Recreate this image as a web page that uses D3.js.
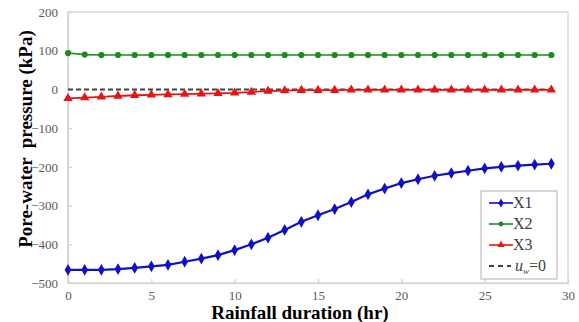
<!DOCTYPE html>
<html>
<head>
<meta charset="utf-8">
<script src="https://cdn.jsdelivr.net/npm/d3@7"></script>
<style>
  html, body { margin: 0; padding: 0; background: #fff; }
  svg { display: block; }
</style>
</head>
<body>
<svg id="chart" width="579" height="322"></svg>
<script>
// Rainfall duration (hr)
const hours = d3.range(0, 30);

// Pore-water pressure (kPa) at three monitoring points
const x1 = [-466, -466, -466, -464, -461, -457, -453, -445, -437, -428,
            -415, -400, -383, -363, -342, -325, -309, -291, -271, -256,
            -242, -232, -223, -216, -210, -204, -200, -197, -194, -192];
const x2 = [94, 90, 89, 89, 89, 89, 89, 89, 89, 89,
            89, 89, 89, 89, 89, 89, 89, 89, 89, 89,
            89, 89, 89, 89, 89, 89, 89, 89, 89, 89];
const x3 = [-23, -21, -19, -17, -15, -14, -13, -12, -11, -10,
            -9, -7, -4, -3, -2, -2, -2, -1, -1, -1,
            -1, -1, -1, -1, -1, -1, -1, -1, -1, -1];
const uw0 = hours.map(() => 0);

const xTicks = [0, 5, 10, 15, 20, 25, 30];
const yTicks = [200, 100, 0, -100, -200, -300, -400, -500];

const seriesNames = ["X1", "X2", "X3"];

const svg = d3.select("#chart");
const W = 579, H = 322;
const m = { left: 68, right: 11, top: 12, bottom: 39 };

const x = d3.scaleLinear().domain([0, 30]).range([m.left, W - m.right]);
const y = d3.scaleLinear().domain([-500, 200]).range([H - m.bottom, m.top]);

const serif = "'Liberation Serif', 'Times New Roman', serif";
const axisGray = "#cfcfcf";
const labelGray = "#595959";

// plot frame
svg.append("rect")
  .attr("x", x(0)).attr("y", y(200))
  .attr("width", x(30) - x(0)).attr("height", y(-500) - y(200))
  .attr("fill", "none").attr("stroke", axisGray).attr("stroke-width", 1.2);

// axes with inward ticks
const gx = svg.append("g")
  .attr("transform", `translate(0,${y(-500)})`)
  .call(d3.axisBottom(x).tickValues(xTicks).tickSizeInner(-4).tickSizeOuter(0).tickPadding(8));
const gy = svg.append("g")
  .attr("transform", `translate(${x(0)},0)`)
  .call(d3.axisLeft(y).tickValues(yTicks).tickSizeInner(-4).tickSizeOuter(0).tickPadding(10));

[gx, gy].forEach(g => {
  g.attr("font-family", serif).attr("font-size", 13);
  g.select(".domain").attr("stroke", axisGray).attr("stroke-width", 1.2);
  g.selectAll(".tick line").attr("stroke", axisGray).attr("stroke-width", 1.2);
  g.selectAll(".tick text")
    .attr("fill", labelGray)
    .attr("font-family", serif)
    .style("font-family", serif)
    .style("font-size", "13px");
});

// axis titles
svg.append("text")
  .attr("x", 300).attr("y", 319)
  .attr("text-anchor", "middle")
  .attr("font-family", serif).attr("font-weight", "bold").attr("font-size", 19)
  .attr("fill", "#000")
  .text("Rainfall duration (hr)");

svg.append("text")
  .attr("transform", "translate(32,139) rotate(-90)")
  .attr("text-anchor", "middle")
  .attr("font-family", serif).attr("font-weight", "bold").attr("font-size", 19)
  .attr("fill", "#000")
  .attr("xml:space", "preserve")
  .style("white-space", "pre")
  .text("Pore-water  pressure (kPa)");

const lineGen = d3.line().x((d, i) => x(hours[i])).y(d => y(d));

// reference line u_w = 0
svg.append("path")
  .datum(uw0)
  .attr("d", lineGen)
  .attr("fill", "none").attr("stroke", "#404040")
  .attr("stroke-width", 2).attr("stroke-dasharray", "5,3");

const styles = [
  { data: x1, color: "#1010c8", width: 2.2, symbol: d3.symbolDiamond, size: 40 },
  { data: x2, color: "#1e8a1e", width: 1.6, symbol: d3.symbolCircle, size: 30 },
  { data: x3, color: "#e81414", width: 1.8, symbol: d3.symbolTriangle, size: 38 }
];

styles.forEach(s => {
  svg.append("path")
    .datum(s.data)
    .attr("d", lineGen)
    .attr("fill", "none").attr("stroke", s.color).attr("stroke-width", s.width);
  svg.append("g").selectAll("path")
    .data(s.data)
    .join("path")
    .attr("transform", (d, i) => `translate(${x(hours[i])},${y(d)})`)
    .attr("d", d3.symbol(s.symbol, s.size))
    .attr("fill", s.color);
});

// legend
const lg = svg.append("g").attr("transform", "translate(481,191)");
lg.append("rect")
  .attr("width", 76).attr("height", 88)
  .attr("fill", "#fff").attr("stroke", "#bfbfbf").attr("stroke-width", 1.2);

const legendRows = [
  ...styles.map((s, i) => ({ label: seriesNames[i], style: s })),
  { label: null, style: null }
];
legendRows.forEach((r, i) => {
  const cy = 12 + i * 21;
  const row = lg.append("g").attr("transform", `translate(0,${cy})`);
  if (r.style) {
    row.append("line").attr("x1", 8).attr("x2", 32).attr("y1", 0).attr("y2", 0)
      .attr("stroke", r.style.color).attr("stroke-width", 1.6);
    row.append("path").attr("transform", "translate(20,0)")
      .attr("d", d3.symbol(r.style.symbol, r.style.size * 0.6))
      .attr("fill", r.style.color);
    row.append("text").attr("x", 32).attr("y", 5)
      .attr("font-family", serif).attr("font-size", 16).attr("fill", "#404040")
      .text(r.label);
  } else {
    row.append("line").attr("x1", 8).attr("x2", 30).attr("y1", 0).attr("y2", 0)
      .attr("stroke", "#404040").attr("stroke-width", 2).attr("stroke-dasharray", "5,4");
    const t = row.append("text").attr("x", 34).attr("y", 5)
      .attr("font-family", serif).attr("font-size", 16).attr("fill", "#404040");
    t.append("tspan").attr("font-style", "italic").text("u");
    t.append("tspan").attr("dy", 3).attr("font-size", 9).attr("font-style", "italic").text("w");
    t.append("tspan").attr("dy", -3).text("=0");
  }
});
</script>
</body>
</html>
